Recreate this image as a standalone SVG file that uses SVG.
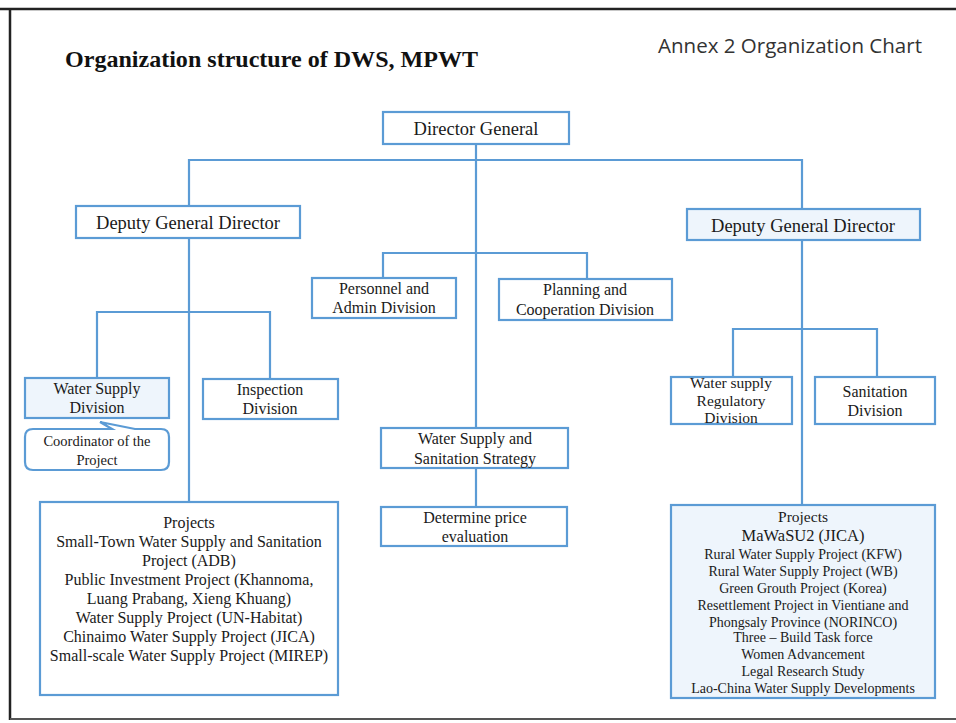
<svg xmlns="http://www.w3.org/2000/svg" width="956" height="723" viewBox="0 0 956 723">
<style>
.box{fill:#ffffff;stroke:#5b9bd5;stroke-width:2.2}
.shade{fill:#eef5fc}
.ln{fill:none;stroke:#5b9bd5;stroke-width:2.2}
text{font-family:"Liberation Serif","Times New Roman",serif;fill:#1a1a1a;text-anchor:middle}
.t18{font-size:18.5px}
.t16{font-size:16px}
.t15{font-size:15.5px}
.t14{font-size:14px}
</style>
<rect x="0" y="0" width="956" height="723" fill="#ffffff"/>
<g id="frame">
<line x1="0" y1="9" x2="956" y2="9" stroke="#222" stroke-width="2.5"/>
<line x1="10" y1="9" x2="10" y2="720" stroke="#222" stroke-width="2.5"/>
<line x1="10" y1="719" x2="956" y2="719" stroke="#555" stroke-width="2"/>
</g>
<g id="titles">
<text x="65" y="67" style="text-anchor:start;font-size:24px;font-weight:bold;fill:#111" textLength="413" lengthAdjust="spacingAndGlyphs">Organization structure of DWS,  MPWT</text>
<text x="658" y="53" style="text-anchor:start;font-family:'Open Sans','Liberation Sans',sans-serif;font-size:20px;fill:#333" textLength="264" lengthAdjust="spacingAndGlyphs">Annex 2 Organization Chart</text>
</g>
<g id="connectors">
<path class="ln" d="M476 144 V428"/>
<path class="ln" d="M189 206 V160 H802 V209"/>
<path class="ln" d="M383 278 V253 H587 V279"/>
<path class="ln" d="M189 238 V502"/>
<path class="ln" d="M97 378 V312 H270 V379"/>
<path class="ln" d="M476 468 V507"/>
<path class="ln" d="M802 240 V505"/>
<path class="ln" d="M733 377 V329 H877 V377"/>
</g>
<g id="director-general">
<rect class="box" x="383" y="112" width="186" height="32"/>
<text class="t18" x="476" y="135">Director General</text>
</g>
<g id="dgd-left">
<rect class="box" x="76" y="206" width="224" height="32"/>
<text class="t18" x="188" y="229">Deputy General Director</text>
</g>
<g id="dgd-right">
<rect class="box shade" x="687" y="209" width="233" height="31"/>
<text class="t18" x="803" y="232">Deputy General Director</text>
</g>
<g id="personnel">
<rect class="box" x="312" y="278" width="144" height="40"/>
<text class="t16" x="384" y="294">Personnel and</text>
<text class="t16" x="384" y="313">Admin Division</text>
</g>
<g id="planning">
<rect class="box" x="499" y="279" width="173" height="41"/>
<text class="t16" x="585" y="295">Planning and</text>
<text class="t16" x="585" y="315">Cooperation Division</text>
</g>
<g id="water-supply-division">
<rect class="box shade" x="25" y="378" width="144" height="40"/>
<text class="t16" x="97" y="394">Water Supply</text>
<text class="t16" x="97" y="413">Division</text>
</g>
<g id="coordinator">
<path class="box" d="M33 429 H112 L100 422 L135 429 H161 Q169 429 169 437 V462 Q169 470 161 470 H33 Q25 470 25 462 V437 Q25 429 33 429 Z"/>
<text class="t15" x="97" y="446" style="font-size:14.5px">Coordinator of the</text>
<text class="t15" x="97" y="465" style="font-size:14.5px">Project</text>
</g>
<g id="inspection">
<rect class="box" x="203" y="379" width="135" height="40"/>
<text class="t16" x="270" y="395">Inspection</text>
<text class="t16" x="270" y="414">Division</text>
</g>
<g id="strategy">
<rect class="box" x="381" y="428" width="187" height="40"/>
<text class="t16" x="475" y="444">Water Supply and</text>
<text class="t16" x="475" y="464">Sanitation  Strategy</text>
</g>
<g id="price">
<rect class="box" x="381" y="507" width="186" height="39"/>
<text class="t16" x="475" y="523">Determine price</text>
<text class="t16" x="475" y="542">evaluation</text>
</g>
<g id="regulatory">
<rect class="box" x="671" y="377" width="121" height="47"/>
<text class="t15" x="731" y="388">Water supply</text>
<text class="t15" x="731" y="406">Regulatory</text>
<text class="t15" x="731" y="423">Division</text>
</g>
<g id="sanitation">
<rect class="box" x="815" y="377" width="120" height="47"/>
<text class="t16" x="875" y="397">Sanitation</text>
<text class="t16" x="875" y="416">Division</text>
</g>
<g id="projects-left">
<rect class="box" x="40" y="502" width="298" height="193"/>
<text class="t16" x="189" y="528">Projects</text>
<text class="t16" x="189" y="547">Small-Town  Water Supply and Sanitation</text>
<text class="t16" x="189" y="566">Project (ADB)</text>
<text class="t16" x="189" y="585">Public Investment  Project (Khannoma,</text>
<text class="t16" x="189" y="604">Luang Prabang, Xieng Khuang)</text>
<text class="t16" x="189" y="623">Water Supply Project (UN-Habitat)</text>
<text class="t16" x="189" y="642">Chinaimo  Water Supply Project (JICA)</text>
<text class="t16" x="189" y="661">Small-scale  Water Supply Project (MIREP)</text>
</g>
<g id="projects-right">
<rect class="box shade" x="671" y="505" width="264" height="193"/>
<text class="t15" x="803" y="522">Projects</text>
<text class="t16" x="803" y="541" style="font-size:16.5px">MaWaSU2 (JICA)</text>
<text class="t14" x="803" y="559">Rural Water Supply Project (KFW)</text>
<text class="t14" x="803" y="576">Rural Water Supply Project (WB)</text>
<text class="t14" x="803" y="593">Green Grouth  Project (Korea)</text>
<text class="t14" x="803" y="610">Resettlement Project in Vientiane and</text>
<text class="t14" x="803" y="627">Phongsaly Province (NORINCO)</text>
<text class="t14" x="803" y="642">Three – Build  Task force</text>
<text class="t14" x="803" y="659">Women Advancement</text>
<text class="t14" x="803" y="676">Legal Research Study</text>
<text class="t14" x="803" y="693">Lao-China Water Supply Developments</text>
</g>
</svg>
